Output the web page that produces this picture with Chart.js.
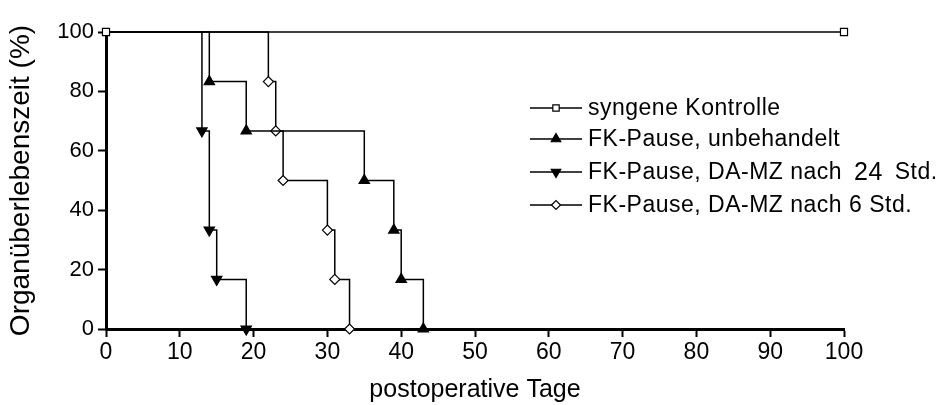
<!DOCTYPE html>
<html>
<head>
<meta charset="utf-8">
<script src="https://cdn.jsdelivr.net/npm/chart.js@4.4.0/dist/chart.umd.min.js"></script>
<style>
  html, body { margin: 0; padding: 0; background: #fff; }
  #wrap { width: 945px; height: 405px; }
</style>
</head>
<body>
<div id="wrap"><canvas id="survChart"></canvas></div>
<script>
// ===============================
// Data (Kaplan-Meier steps)
// ===============================
const seriesNames = [
    'syngene Kontrolle',
    'FK-Pause, unbehandelt',
    'FK-Pause, DA-MZ nach 24 Std.',
    'FK-Pause, DA-MZ nach 6 Std.'
];
const synDays = [0, 100];
const synSurv = [100, 100];
const unbDays = [0, 14, 19, 35, 39, 40, 43];
const unbSurv = [100, 83.3, 66.7, 50, 33.3, 16.7, 0];
const h24Days = [0, 13, 14, 15, 19];
const h24Surv = [100, 66.7, 33.3, 16.7, 0];
const h6Days = [0, 22, 23, 24, 30, 31, 33];
const h6Surv = [100, 83.3, 66.7, 50, 33.3, 16.7, 0];
const xTicks = [0, 10, 20, 30, 40, 50, 60, 70, 80, 90, 100];
const yTicks = [0, 20, 40, 60, 80, 100];

const FONT = "'Liberation Sans', Arial, sans-serif";

function pts(days, surv) {
    return days.map((d, i) => ({ x: d, y: surv[i] }));
}
// no marker at the starting point
function radii(n, r) {
    return Array.from({ length: n }, (_, i) => i === 0 ? 0 : r);
}

const styles = [
    { pointStyle: 'rect', rotation: 0, fill: '#fff', r: 5 },
    { pointStyle: 'triangle', rotation: 0, fill: '#000', r: 6 },
    { pointStyle: 'triangle', rotation: 180, fill: '#000', r: 6 },
    { pointStyle: 'rectRot', rotation: 0, fill: '#fff', r: 5 }
];

function makeSet(i, days, surv, radius) {
    const s = styles[i];
    return {
        label: seriesNames[i],
        data: pts(days, surv),
        stepped: 'before',
        borderColor: '#000',
        borderWidth: 1.5,
        pointStyle: s.pointStyle,
        rotation: s.rotation,
        pointBackgroundColor: s.fill,
        pointBorderColor: '#000',
        pointBorderWidth: 1.2,
        pointRadius: radius,
        clip: false
    };
}

// ===============================
// Legend drawn inside the plot
// ===============================
const legendPlugin = {
    id: 'innerLegend',
    afterDraw(chart) {
        const c = chart.ctx;
        const x0 = 530, lineW = 52, textX = 588;
        const rows = [108, 139, 172, 205];
        c.save();
        rows.forEach((y, i) => {
            const s = styles[i];
            c.letterSpacing = '0px';
            c.strokeStyle = '#000';
            c.lineWidth = 1.5;
            c.beginPath();
            c.moveTo(x0, y);
            c.lineTo(x0 + lineW, y);
            c.stroke();
            c.fillStyle = s.fill;
            c.lineWidth = 1.2;
            Chart.helpers.drawPoint(c, {
                pointStyle: s.pointStyle,
                rotation: s.rotation,
                radius: s.r - 0.5,
                borderWidth: 1.2
            }, x0 + lineW / 2, y);

            c.fillStyle = '#000';
            c.textBaseline = 'middle';
            c.textAlign = 'left';
            c.letterSpacing = '0.5px';
            // the "24" is set a little larger in the original
            const parts = seriesNames[i].split(/(24)/);
            let x = textX;
            parts.forEach(p => {
                const big = p === '24';
                c.font = (big ? '25px ' : '23px ') + FONT;
                if (big) x += 5;
                c.fillText(p, x, y + 1);
                x += c.measureText(p).width + (big ? 5 : 0);
            });
        });
        c.restore();
    }
};

new Chart(document.getElementById('survChart'), {
    type: 'line',
    data: {
        datasets: [
            makeSet(0, synDays, synSurv, 5),
            makeSet(1, unbDays, unbSurv, radii(unbDays.length, 6)),
            makeSet(2, h24Days, h24Surv, radii(h24Days.length, 6)),
            makeSet(3, h6Days, h6Surv, radii(h6Days.length, 5))
        ]
    },
    options: {
        responsive: true,
        maintainAspectRatio: false,
        animation: false,
        layout: { padding: { top: 32, right: 101, left: 0, bottom: 0 } },
        plugins: { legend: { display: false }, tooltip: { enabled: false } },
        scales: {
            x: {
                type: 'linear',
                min: 0, max: 100,
                afterBuildTicks: s => { s.ticks = xTicks.map(v => ({ value: v })); },
                afterFit: s => { s.height = 76; },
                ticks: { color: '#000', font: { family: FONT, size: 23 }, padding: 2, maxRotation: 0 },
                grid: { drawOnChartArea: false, drawTicks: true, tickLength: 8, tickWidth: 2, tickColor: '#000' },
                border: { display: true, width: 3, color: '#000' },
                title: {
                    display: true, text: 'postoperative Tage', color: '#000',
                    font: { family: FONT, size: 25 }, padding: { top: 0, bottom: 0 }
                }
            },
            y: {
                type: 'linear',
                min: 0, max: 100,
                afterBuildTicks: s => { s.ticks = yTicks.map(v => ({ value: v })); },
                afterFit: s => { s.width = 106; },
                ticks: { color: '#000', font: { family: FONT, size: 22 }, padding: 4 },
                grid: { drawOnChartArea: false, drawTicks: true, tickLength: 8, tickWidth: 2, tickColor: '#000' },
                border: { display: true, width: 3, color: '#000' },
                title: {
                    display: true, text: 'Organüberlebenszeit (%)', color: '#000',
                    font: { family: FONT, size: 28 }, padding: { top: 4, bottom: 0 }
                }
            }
        }
    },
    plugins: [legendPlugin]
});
</script>
</body>
</html>
